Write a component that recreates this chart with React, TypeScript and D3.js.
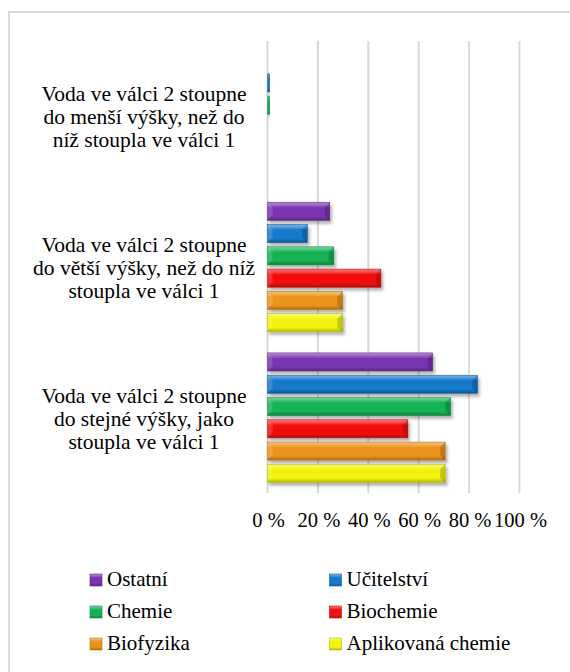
import React, { useRef, useEffect } from 'react';
import * as d3 from 'd3';

// category labels, top to bottom
const categories = [
  ['Voda ve válci 2 stoupne', 'do menší výšky, než do', 'níž stoupla ve válci 1'],
  ['Voda ve válci 2 stoupne', 'do větší výšky, než do níž', 'stoupla ve válci 1'],
  ['Voda ve válci 2 stoupne', 'do stejné výšky, jako', 'stoupla ve válci 1'],
];

const seriesNames = ['Ostatní', 'Učitelství', 'Chemie', 'Biochemie', 'Biofyzika', 'Aplikovaná chemie'];
const seriesColors = ['#7a35b0', '#1479cc', '#12b254', '#f21010', '#ec931a', '#f2f20a'];

// percent values per series, one per category (same order as categories)
const ostatni = [0, 24.7, 65.5];
const ucitelstvi = [0.8, 15.8, 83.3];
const chemie = [0.8, 26.3, 72.6];
const biochemie = [0, 45.0, 55.7];
const biofyzika = [0, 29.7, 70.5];
const aplikovana = [0, 29.7, 70.5];
const seriesValues = [ostatni, ucitelstvi, chemie, biochemie, biofyzika, aplikovana];

const xTicks = [0, 20, 40, 60, 80, 100];

const FONT = 'Liberation Serif';

const App: React.FC = () => {
  const ref = useRef<SVGSVGElement | null>(null);

  useEffect(() => {
    const svg = d3.select(ref.current);
    svg.selectAll('*').remove();

    const plot = { left: 267.5, right: 519.5, top: 41, bottom: 493 };

    const xScale = d3.scaleLinear().domain([0, 100]).range([plot.left, plot.right]);
    const yScale = d3.scaleBand<number>()
      .domain(d3.range(categories.length))
      .range([plot.top, plot.bottom])
      .paddingInner(0);
    const inner = d3.scaleBand<number>()
      .domain(d3.range(seriesNames.length))
      .range([0, yScale.bandwidth()])
      .paddingInner(0.19)
      .paddingOuter(0.475);

    const defs = svg.append('defs');
    seriesColors.forEach((c, i) => {
      const base = d3.color(c)!;
      const g = defs.append('linearGradient')
        .attr('id', `grad-${i}`)
        .attr('x1', 0).attr('y1', 0).attr('x2', 0).attr('y2', 1);
      g.append('stop').attr('offset', '0%').attr('stop-color', d3.interpolateRgb(c, '#ffffff')(0.45));
      g.append('stop').attr('offset', '22%').attr('stop-color', d3.interpolateRgb(c, '#ffffff')(0.15));
      g.append('stop').attr('offset', '30%').attr('stop-color', c);
      g.append('stop').attr('offset', '78%').attr('stop-color', c);
      g.append('stop').attr('offset', '100%').attr('stop-color', base.darker(0.9).toString());
    });
    const shadow = defs.append('filter').attr('id', 'shadow')
      .attr('x', '-10%').attr('y', '-30%').attr('width', '130%').attr('height', '180%');
    shadow.append('feDropShadow')
      .attr('dx', 2).attr('dy', 3).attr('stdDeviation', 1.8)
      .attr('flood-color', '#000').attr('flood-opacity', 0.3);

    // chart frame
    svg.append('rect')
      .attr('x', 9).attr('y', 12)
      .attr('width', 600).attr('height', 700)
      .attr('fill', '#fff')
      .attr('stroke', '#d9d9d9')
      .attr('stroke-width', 2);

    // gridlines
    svg.append('g')
      .selectAll('line')
      .data(xTicks)
      .join('line')
      .attr('x1', d => xScale(d)).attr('x2', d => xScale(d))
      .attr('y1', plot.top).attr('y2', plot.bottom)
      .attr('stroke', '#d9d9d9')
      .attr('stroke-width', 2);

    // bars
    const bars = svg.append('g');
    seriesValues.forEach((vals, s) => {
      vals.forEach((v, c) => {
        if (v <= 0) return;
        const y = yScale(c)! + inner(s)!;
        const h = inner.bandwidth();
        const x0 = xScale(0);
        const w = xScale(v) - x0;
        const g = bars.append('g').attr('filter', 'url(#shadow)');
        g.append('rect')
          .attr('x', x0).attr('y', y)
          .attr('width', w).attr('height', h)
          .attr('fill', `url(#grad-${s})`)
          .attr('stroke', d3.color(seriesColors[s])!.darker(0.7).toString())
          .attr('stroke-width', 0.6);
        const bev = Math.min(5, w / 2);
        // right bevel
        g.append('path')
          .attr('d', `M${x0 + w},${y} L${x0 + w - bev},${y + bev} L${x0 + w - bev},${y + h - bev} L${x0 + w},${y + h} Z`)
          .attr('fill', '#000').attr('opacity', 0.18);
        // left bevel
        g.append('path')
          .attr('d', `M${x0},${y} L${x0 + bev},${y + bev} L${x0 + bev},${y + h - bev} L${x0},${y + h} Z`)
          .attr('fill', '#fff').attr('opacity', 0.15);
      });
    });

    // category labels
    const labels = svg.append('g')
      .attr('font-family', FONT)
      .attr('font-size', 21.5)
      .attr('fill', '#000')
      .attr('text-anchor', 'middle');
    categories.forEach((lines, c) => {
      const cy = yScale(c)! + yScale.bandwidth() / 2;
      lines.forEach((ln, i) => {
        labels.append('text')
          .attr('x', 144)
          .attr('y', cy + (i - 1) * 23 + 8)
          .text(ln);
      });
    });

    // x tick labels
    svg.append('g')
      .attr('font-family', FONT)
      .attr('font-size', 20.5)
      .attr('fill', '#000')
      .attr('text-anchor', 'middle')
      .selectAll('text')
      .data(xTicks)
      .join('text')
      .attr('x', d => xScale(d) + 1)
      .attr('y', 527)
      .text(d => `${d} %`);

    // legend
    const legend = svg.append('g')
      .attr('font-family', FONT)
      .attr('font-size', 21)
      .attr('fill', '#000');
    seriesNames.forEach((name, i) => {
      const col = i % 2;
      const row = Math.floor(i / 2);
      const lx = col === 0 ? 90 : 329.5;
      const ly = 586 + row * 32;
      legend.append('rect')
        .attr('x', lx).attr('y', ly - 12)
        .attr('width', 12).attr('height', 12)
        .attr('fill', `url(#grad-${i})`)
        .attr('stroke', d3.color(seriesColors[i])!.darker(0.7).toString())
        .attr('stroke-width', 0.6);
      legend.append('text')
        .attr('x', lx + 17)
        .attr('y', ly)
        .text(name);
    });
  }, []);

  return (
    <svg
      ref={ref}
      width={570}
      height={672}
      style={{ position: 'absolute', left: 0, top: 0 }}
    />
  );
};

export default App;
